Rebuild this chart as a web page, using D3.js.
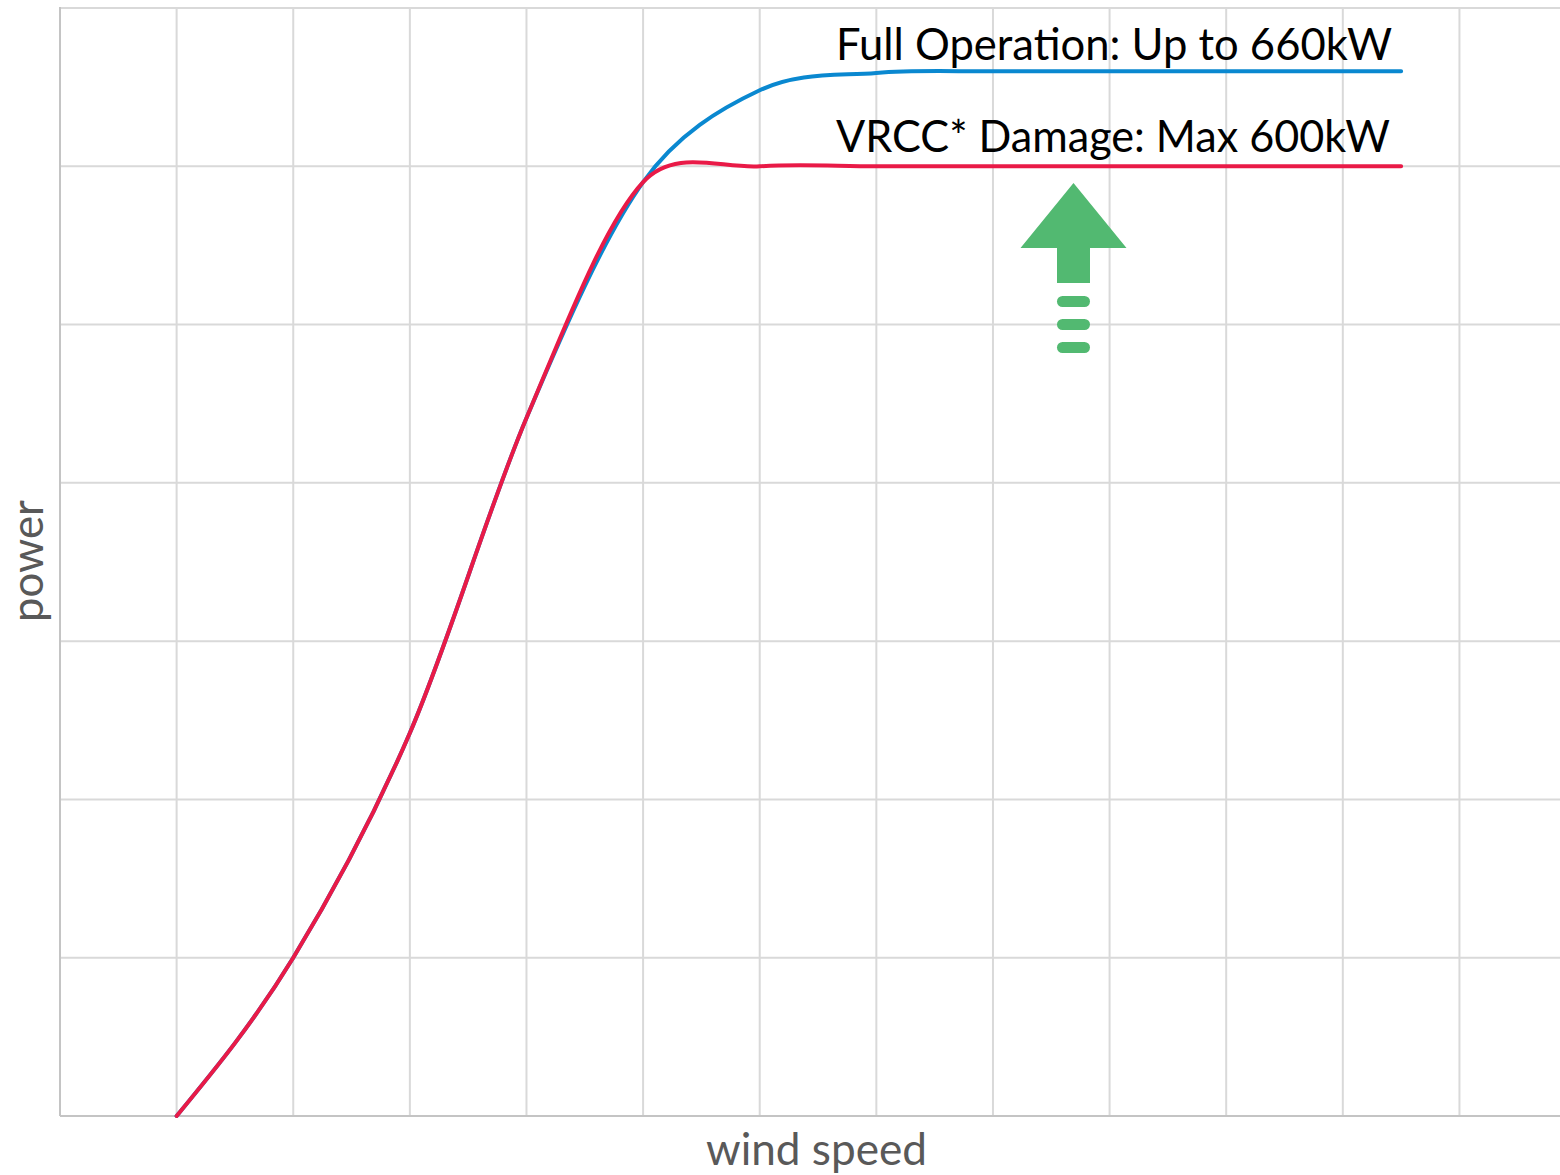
<!DOCTYPE html>
<html>
<head>
<meta charset="utf-8">
<script src="https://cdn.jsdelivr.net/npm/d3@7"></script>
<style>
  html, body { margin: 0; padding: 0; background: #ffffff; }
  svg { display: block; }
</style>
</head>
<body>
<svg id="chart" width="1560" height="1175"></svg>
<script>
// Wind turbine power curve: full operation vs. VRCC-damaged operation (kW)
const windSpeed = [1, 2, 3, 4, 5, 6, 7, 8, 9, 10, 11, 11.5];
const fullPower = [0, 100, 242, 441, 590, 648, 659, 660, 660, 660, 660, 660];
const vrccPower = [0, 100, 242, 441, 590, 600, 600, 600, 600, 600, 600, 600];

const xGridTicks = d3.range(1, 13);
const yGridTicks = d3.range(100, 701, 100);

const labelFull = "Full Operation: Up to 660kW";
const labelVrcc = "VRCC* Damage: Max 600kW";
const xTitle = "wind speed";
const yTitle = "power";

const svg = d3.select("#chart");
const plotLeft = 60, plotRight = 1560, plotTop = 8, plotBottom = 1116;

const x = d3.scaleLinear().domain([0, 13]).range([plotLeft, plotLeft + 13 * 116.62]);
const y = d3.scaleLinear().domain([0, 700]).range([plotBottom, plotTop]);

// Smoothed-line curve for d3.line: Catmull-Rom style Bezier handles (1/6 of the
// neighbour span), each capped relative to the adjacent segment so that a short,
// flat run after a steep climb does not overshoot much. End segments use a
// natural (zero-curvature) end handle.
function smoothLine(context) {
  let pts = [];
  return {
    areaStart() {}, areaEnd() {},
    lineStart() { pts = []; },
    point(px, py) { pts.push([+px, +py]); },
    lineEnd() {
      const n = pts.length;
      if (!n) return;
      context.moveTo(pts[0][0], pts[0][1]);
      if (n < 3) {
        for (let i = 1; i < n; i++) context.lineTo(pts[i][0], pts[i][1]);
        return;
      }
      const dist = (a, b) => Math.hypot(b[0] - a[0], b[1] - a[1]);
      const inner = (i, dir) => {
        const p = pts[i], a = pts[i - 1], b = pts[i + 1];
        let hx = (b[0] - a[0]) / 6 * dir, hy = (b[1] - a[1]) / 6 * dir;
        const len = Math.hypot(hx, hy);
        const cap = dist(p, dir > 0 ? b : a) / 2.5;
        if (len > cap && len > 0) { hx *= cap / len; hy *= cap / len; }
        return [p[0] + hx, p[1] + hy];
      };
      for (let i = 0; i < n - 1; i++) {
        const p = pts[i], q = pts[i + 1];
        let c1 = i > 0 ? inner(i, 1) : null;
        let c2 = i + 1 < n - 1 ? inner(i + 1, -1) : null;
        if (!c1) c1 = [(p[0] + c2[0]) / 2, (p[1] + c2[1]) / 2];
        if (!c2) c2 = [(q[0] + c1[0]) / 2, (q[1] + c1[1]) / 2];
        context.bezierCurveTo(c1[0], c1[1], c2[0], c2[1], q[0], q[1]);
      }
    }
  };
}

// gridlines
const grid = svg.append("g");
grid.selectAll("line.v").data(xGridTicks).enter().append("line")
  .attr("class", "v")
  .attr("x1", d => x(d)).attr("x2", d => x(d))
  .attr("y1", plotTop).attr("y2", plotBottom)
  .attr("stroke", "#d9d9d9").attr("stroke-width", 2);
grid.selectAll("line.h").data(yGridTicks).enter().append("line")
  .attr("class", "h")
  .attr("x1", plotLeft).attr("x2", plotRight)
  .attr("y1", d => y(d)).attr("y2", d => y(d))
  .attr("stroke", "#d9d9d9").attr("stroke-width", 2);

// axes (no ticks or labels)
svg.append("line").attr("x1", plotLeft).attr("x2", plotLeft).attr("y1", plotTop - 1).attr("y2", plotBottom)
  .attr("stroke", "#c4c4c4").attr("stroke-width", 2);
svg.append("line").attr("x1", plotLeft).attr("x2", plotRight).attr("y1", plotBottom).attr("y2", plotBottom)
  .attr("stroke", "#c4c4c4").attr("stroke-width", 2);

// series
const line = d3.line().x(d => x(d[0])).y(d => y(d[1])).curve(smoothLine);

const full = windSpeed.map((w, i) => [w, fullPower[i]]);
const vrcc = windSpeed.map((w, i) => [w, vrccPower[i]]);

svg.append("path").datum(full).attr("d", line)
  .attr("fill", "none").attr("stroke", "#0a88d0").attr("stroke-width", 4)
  .attr("stroke-linecap", "round");
svg.append("path").datum(vrcc).attr("d", line)
  .attr("fill", "none").attr("stroke", "#e91a47").attr("stroke-width", 4)
  .attr("stroke-linecap", "round");

// curve labels
const font = "Lato, 'Open Sans', sans-serif";
svg.append("text").attr("x", 836).attr("y", 60)
  .attr("font-family", font).attr("font-size", 45).attr("fill", "#000")
  .attr("textLength", 556).attr("lengthAdjust", "spacingAndGlyphs")
  .text(labelFull);
svg.append("text").attr("x", 836).attr("y", 152)
  .attr("font-family", font).attr("font-size", 45).attr("fill", "#000")
  .attr("textLength", 554).attr("lengthAdjust", "spacingAndGlyphs")
  .text(labelVrcc);

// upward arrow annotation
const ax = 1073.5;
const arrow = svg.append("g").attr("fill", "#52b971");
arrow.append("path")
  .attr("d", `M${ax},183 L${ax + 53},248 L${ax + 16.5},248 L${ax + 16.5},283 L${ax - 16.5},283 L${ax - 16.5},248 L${ax - 53},248 Z`);
[301.5, 324.5, 347.5].forEach(cy => {
  arrow.append("rect").attr("x", ax - 16.5).attr("y", cy - 5.5)
    .attr("width", 33).attr("height", 11).attr("rx", 5.5);
});

// axis titles
svg.append("text").attr("x", 816.5).attr("y", 1165)
  .attr("text-anchor", "middle")
  .attr("font-family", font).attr("font-size", 44).attr("fill", "#595959")
  .attr("textLength", 221).attr("lengthAdjust", "spacingAndGlyphs")
  .text(xTitle);
svg.append("text")
  .attr("transform", "translate(43,561) rotate(-90)")
  .attr("text-anchor", "middle")
  .attr("font-family", font).attr("font-size", 44).attr("fill", "#595959")
  .attr("textLength", 122).attr("lengthAdjust", "spacingAndGlyphs")
  .text(yTitle);
</script>
</body>
</html>
